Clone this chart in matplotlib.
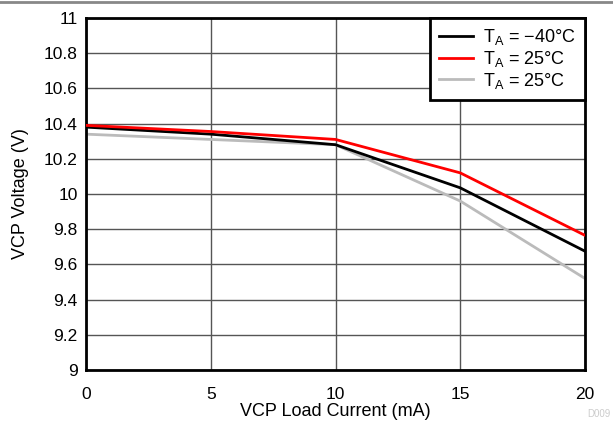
import matplotlib
matplotlib.use("Agg")
import matplotlib.pyplot as plt

plt.rcParams['font.family'] = ['Liberation Sans', 'DejaVu Sans']

current_ma = [0, 5, 10, 15, 20]
v_m40 = [10.38, 10.34, 10.28, 10.035, 9.675]
v_25_red = [10.39, 10.355, 10.31, 10.12, 9.765]
v_25_gray = [10.34, 10.31, 10.28, 9.96, 9.52]
labels = ['T$_\\mathregular{A}$ = \u221240\u00b0C', 'T$_\\mathregular{A}$ = 25\u00b0C', 'T$_\\mathregular{A}$ = 25\u00b0C']
xticks = [0, 5, 10, 15, 20]
yticks = [9, 9.2, 9.4, 9.6, 9.8, 10, 10.2, 10.4, 10.6, 10.8, 11]
ytick_labels = ['9', '9.2', '9.4', '9.6', '9.8', '10', '10.2', '10.4', '10.6', '10.8', '11']

fig = plt.figure(figsize=(6.13, 4.21), dpi=100)
ax = fig.add_axes([86/613, 1 - 370/421, (585-86)/613, (370-18)/421])

ax.plot(current_ma, v_m40, color='black', lw=2, label=labels[0], zorder=3)
ax.plot(current_ma, v_25_red, color='#ff0000', lw=2, label=labels[1], zorder=3)
ax.plot(current_ma, v_25_gray, color='#bbbbbb', lw=2, label=labels[2], zorder=2)

ax.set_xlim(0, 20)
ax.set_ylim(9, 11)
ax.set_xticks(xticks)
ax.set_yticks(yticks)
ax.set_yticklabels(ytick_labels)
ax.grid(True, color='#555555', lw=1)
ax.tick_params(axis='y', length=0, labelsize=12.5, pad=6)
ax.tick_params(axis='x', length=0, labelsize=12.5, pad=12)
for s in ax.spines.values():
    s.set_linewidth(2)
ax.set_xlabel('VCP Load Current (mA)', fontsize=13, labelpad=1)
ax.set_ylabel('VCP Voltage (V)', fontsize=13, labelpad=11)

leg = ax.legend(loc='upper right', fontsize=13, frameon=True, fancybox=False,
                borderaxespad=0, handlelength=1.9, labelspacing=0.1,
                borderpad=0.5, handletextpad=0.55)
leg.get_frame().set_edgecolor('black')
leg.get_frame().set_linewidth(2)
leg.get_frame().set_alpha(1)

fig.add_artist(plt.Line2D([0, 1], [1 - 1.5/421, 1 - 1.5/421], color='#888888', lw=2, transform=fig.transFigure))
fig.text(610/613, 2/421, 'D009', fontsize=7, color='#cccccc', ha='right', va='bottom')

fig.savefig('out.png', dpi=100)
